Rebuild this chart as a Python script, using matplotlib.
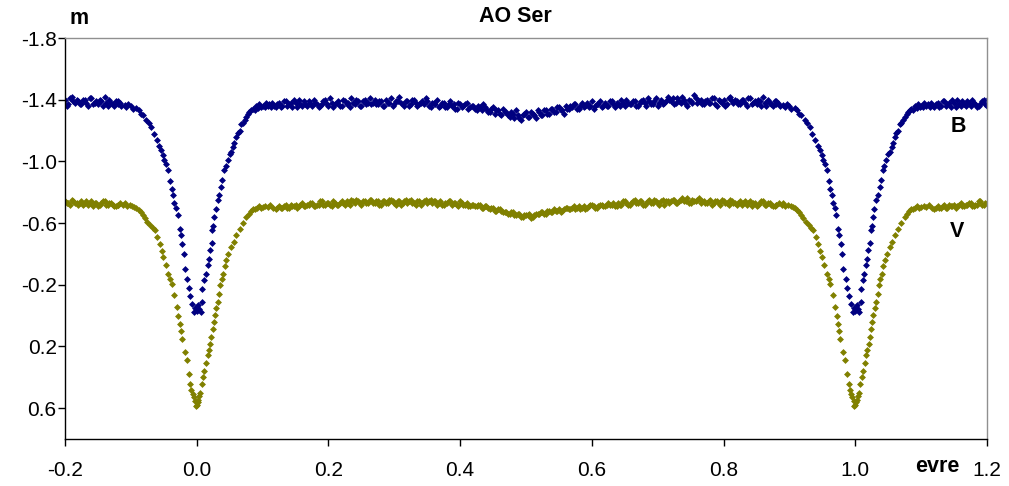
import numpy as np
import matplotlib
matplotlib.use("Agg")
import matplotlib.pyplot as plt

plt.rcParams['font.family'] = ['Liberation Sans', 'DejaVu Sans']

# phase and magnitude (one cycle, 0..1)
B_egress_phase = [0.000, 0.002, 0.004, 0.006, 0.0085, 0.0085, 0.011, 0.0135, 0.0165, 0.018,
                  0.020, 0.0225, 0.0235, 0.025, 0.027, 0.029, 0.032, 0.034, 0.037, 0.039,
                  0.042, 0.044, 0.047, 0.050, 0.052, 0.055, 0.057, 0.060, 0.0625, 0.065,
                  0.068, 0.070, 0.073, 0.075, 0.078, 0.080, 0.083, 0.085, 0.088, 0.090,
                  0.093, 0.095, 0.098, 0.100, 0.103, 0.105, 0.108, 0.110, 0.113, 0.115, 0.118]
B_egress_mag = [-0.03, -0.066, -0.04, -0.023, -0.088, -0.175, -0.23, -0.272, -0.326, -0.37,
                -0.424, -0.47, -0.553, -0.58, -0.64, -0.69, -0.748, -0.78, -0.835, -0.88,
                -0.943, -0.97, -1.008, -1.05, -1.06, -1.094, -1.12, -1.16, -1.181, -1.20,
                -1.24, -1.25, -1.268, -1.29, -1.31, -1.32, -1.332, -1.34, -1.33, -1.36,
                -1.345, -1.37, -1.35, -1.36, -1.354, -1.38, -1.36, -1.37, -1.35, -1.38, -1.36]

B_ingress_phase = [0.880, 0.883, 0.885, 0.8907, 0.893, 0.896, 0.900, 0.903, 0.9085, 0.912,
                   0.915, 0.918, 0.9237, 0.927, 0.931, 0.935, 0.939, 0.943, 0.9464, 0.949,
                   0.951, 0.954, 0.957, 0.960, 0.962, 0.964, 0.966, 0.969, 0.971, 0.974,
                   0.976, 0.978, 0.980, 0.982, 0.986, 0.988, 0.990, 0.993, 0.9966, 0.998]
B_ingress_mag = [-1.37, -1.38, -1.36, -1.365, -1.35, -1.37, -1.36, -1.34, -1.343, -1.33,
                 -1.31, -1.30, -1.268, -1.25, -1.224, -1.18, -1.138, -1.10, -1.073, -1.04,
                 -1.008, -0.98, -0.943, -0.87, -0.824, -0.78, -0.731, -0.70, -0.65, -0.564,
                 -0.52, -0.467, -0.40, -0.304, -0.24, -0.18, -0.13, -0.077, -0.023, -0.05]

# out of eclipse, sampled every 0.005 from 0.120 (set 1) and from 0.1225 (set 2)
B_flat1 = [-1.35, -1.38, -1.36, -1.39, -1.37, -1.35, -1.38, -1.40, -1.36, -1.37,
           -1.39, -1.36, -1.38, -1.35, -1.37, -1.40, -1.36, -1.38, -1.37, -1.39,
           -1.36, -1.39, -1.38, -1.41, -1.37, -1.39, -1.36, -1.40, -1.38, -1.37,
           -1.40, -1.37, -1.39, -1.36, -1.38, -1.41, -1.37, -1.39, -1.38, -1.36,
           -1.39, -1.37, -1.40, -1.36, -1.38, -1.37, -1.39, -1.35, -1.38, -1.40,
           -1.36, -1.38, -1.35, -1.39, -1.37, -1.34, -1.37, -1.36, -1.38, -1.35,
           -1.36, -1.33, -1.35, -1.37, -1.34, -1.32, -1.35, -1.33, -1.31, -1.34,
           -1.32, -1.29, -1.31, -1.33, -1.28, -1.30, -1.32, -1.29, -1.31, -1.28,
           -1.32, -1.30, -1.33, -1.31, -1.34, -1.32, -1.35, -1.33, -1.36, -1.34,
           -1.35, -1.37, -1.34, -1.38, -1.36, -1.35, -1.39, -1.36, -1.37, -1.35,
           -1.38, -1.36, -1.39, -1.35, -1.37, -1.40, -1.36, -1.38, -1.37, -1.39,
           -1.36, -1.39, -1.38, -1.41, -1.37, -1.39, -1.36, -1.40, -1.38, -1.42,
           -1.39, -1.37, -1.41, -1.38, -1.40, -1.36, -1.39, -1.43, -1.38, -1.40,
           -1.37, -1.40, -1.38, -1.41, -1.36, -1.39, -1.40, -1.37, -1.42, -1.38,
           -1.39, -1.37, -1.40, -1.36, -1.41, -1.38, -1.37, -1.39, -1.42, -1.36,
           -1.38, -1.36, -1.39]
B_flat2 = [-1.37, -1.35, -1.39, -1.36, -1.38, -1.40, -1.35, -1.37, -1.39, -1.36,
           -1.38, -1.40, -1.37, -1.36, -1.39, -1.37, -1.41, -1.35, -1.38, -1.36,
           -1.40, -1.37, -1.35, -1.38, -1.40, -1.36, -1.39, -1.37, -1.41, -1.38,
           -1.37, -1.39, -1.36, -1.40, -1.38, -1.36, -1.39, -1.42, -1.37, -1.39,
           -1.36, -1.40, -1.38, -1.37, -1.39, -1.41, -1.36, -1.38, -1.37, -1.35,
           -1.38, -1.35, -1.37, -1.36, -1.34, -1.38, -1.35, -1.37, -1.34, -1.36,
           -1.34, -1.36, -1.33, -1.35, -1.32, -1.34, -1.31, -1.33, -1.30, -1.32,
           -1.30, -1.32, -1.28, -1.30, -1.27, -1.31, -1.29, -1.32, -1.30, -1.33,
           -1.30, -1.33, -1.31, -1.34, -1.32, -1.35, -1.33, -1.31, -1.34, -1.36,
           -1.37, -1.34, -1.36, -1.35, -1.38, -1.36, -1.34, -1.37, -1.39, -1.36,
           -1.36, -1.39, -1.37, -1.38, -1.36, -1.38, -1.40, -1.37, -1.39, -1.36,
           -1.38, -1.40, -1.36, -1.39, -1.37, -1.41, -1.38, -1.37, -1.39, -1.40,
           -1.41, -1.38, -1.39, -1.42, -1.37, -1.40, -1.38, -1.41, -1.39, -1.37,
           -1.39, -1.38, -1.41, -1.37, -1.40, -1.38, -1.36, -1.41, -1.39, -1.40,
           -1.37, -1.40, -1.38, -1.41, -1.37, -1.39, -1.40, -1.36, -1.38, -1.40,
           -1.37, -1.39]

V_egress_phase = [0.000, 0.0013, 0.0025, 0.0037, 0.005, 0.0077, 0.010, 0.0118, 0.014, 0.0168,
                  0.0185, 0.0204, 0.022, 0.024, 0.026, 0.0274, 0.030, 0.032, 0.034, 0.0356,
                  0.038, 0.040, 0.0425, 0.045, 0.048, 0.0527, 0.056, 0.060, 0.065, 0.070,
                  0.0755, 0.079, 0.082, 0.085, 0.088, 0.091, 0.094, 0.097, 0.100, 0.104,
                  0.108, 0.112, 0.116]
V_egress_mag = [0.58, 0.56, 0.55, 0.518, 0.50, 0.442, 0.40, 0.356, 0.31, 0.258,
                0.22, 0.182, 0.14, 0.085, 0.04, -0.001, -0.05, -0.088, -0.14, -0.196,
                -0.24, -0.272, -0.32, -0.36, -0.40, -0.445, -0.48, -0.52, -0.56, -0.60,
                -0.64, -0.66, -0.68, -0.69, -0.694, -0.70, -0.71, -0.70, -0.705, -0.71,
                -0.705, -0.715, -0.70]

V_ingress_phase = [0.880, 0.884, 0.888, 0.8907, 0.894, 0.898, 0.902, 0.9055, 0.9085, 0.912,
                   0.915, 0.918, 0.921, 0.925, 0.929, 0.933, 0.936, 0.940, 0.944, 0.947,
                   0.949, 0.953, 0.957, 0.960, 0.962, 0.9655, 0.9697, 0.972, 0.974, 0.976,
                   0.9775, 0.9816, 0.985, 0.9877, 0.990, 0.992, 0.9937, 0.9955, 0.9977, 0.9987]
V_ingress_mag = [-0.72, -0.73, -0.72, -0.727, -0.71, -0.72, -0.71, -0.705, -0.70, -0.685,
                 -0.67, -0.65, -0.63, -0.61, -0.59, -0.57, -0.553, -0.51, -0.467, -0.42,
                 -0.38, -0.33, -0.272, -0.24, -0.207, -0.131, -0.055, 0.00, 0.053, 0.10,
                 0.15, 0.237, 0.291, 0.377, 0.442, 0.48, 0.507, 0.53, 0.551, 0.583]

V_flat1 = [-0.69, -0.71, -0.70, -0.72, -0.70, -0.71, -0.72, -0.71, -0.73, -0.71,
           -0.72, -0.73, -0.71, -0.72, -0.74, -0.72, -0.73, -0.71, -0.73, -0.72,
           -0.74, -0.72, -0.73, -0.75, -0.73, -0.74, -0.72, -0.74, -0.73, -0.75,
           -0.73, -0.74, -0.72, -0.74, -0.73, -0.75, -0.73, -0.74, -0.72, -0.74,
           -0.73, -0.75, -0.73, -0.74, -0.72, -0.74, -0.73, -0.75, -0.74, -0.72,
           -0.74, -0.72, -0.73, -0.74, -0.73, -0.72, -0.74, -0.72, -0.73, -0.71,
           -0.72, -0.71, -0.72, -0.70, -0.71, -0.69, -0.70, -0.68, -0.69, -0.67,
           -0.67, -0.66, -0.67, -0.65, -0.66, -0.64, -0.65, -0.66, -0.64, -0.66,
           -0.66, -0.67, -0.66, -0.68, -0.67, -0.68, -0.69, -0.68, -0.70, -0.69,
           -0.70, -0.69, -0.71, -0.70, -0.69, -0.71, -0.72, -0.70, -0.71, -0.72,
           -0.71, -0.73, -0.72, -0.71, -0.73, -0.72, -0.74, -0.72, -0.73, -0.75,
           -0.73, -0.74, -0.72, -0.74, -0.73, -0.75, -0.73, -0.74, -0.72, -0.74,
           -0.74, -0.75, -0.73, -0.75, -0.74, -0.76, -0.73, -0.74, -0.75, -0.73,
           -0.74, -0.73, -0.75, -0.73, -0.74, -0.72, -0.74, -0.73, -0.75, -0.73,
           -0.72, -0.74, -0.73, -0.72, -0.74, -0.73, -0.71, -0.73, -0.74, -0.72,
           -0.73, -0.71, -0.72]
V_flat2 = [-0.70, -0.70, -0.71, -0.70, -0.72, -0.71, -0.70, -0.72, -0.71, -0.72,
           -0.73, -0.71, -0.72, -0.74, -0.72, -0.73, -0.72, -0.74, -0.72, -0.73,
           -0.73, -0.74, -0.72, -0.74, -0.75, -0.73, -0.74, -0.73, -0.75, -0.73,
           -0.74, -0.72, -0.74, -0.73, -0.75, -0.74, -0.72, -0.74, -0.73, -0.75,
           -0.74, -0.73, -0.72, -0.74, -0.73, -0.75, -0.74, -0.73, -0.74, -0.73,
           -0.72, -0.73, -0.74, -0.72, -0.73, -0.71, -0.73, -0.72, -0.71, -0.72,
           -0.71, -0.72, -0.70, -0.71, -0.70, -0.70, -0.68, -0.69, -0.68, -0.67,
           -0.66, -0.67, -0.65, -0.66, -0.64, -0.65, -0.65, -0.63, -0.65, -0.66,
           -0.67, -0.66, -0.68, -0.67, -0.69, -0.68, -0.67, -0.69, -0.70, -0.69,
           -0.71, -0.70, -0.69, -0.71, -0.70, -0.72, -0.71, -0.70, -0.72, -0.71,
           -0.72, -0.72, -0.73, -0.71, -0.72, -0.74, -0.73, -0.72, -0.74, -0.73,
           -0.74, -0.72, -0.73, -0.75, -0.73, -0.74, -0.72, -0.75, -0.74, -0.73,
           -0.75, -0.73, -0.74, -0.76, -0.74, -0.73, -0.75, -0.74, -0.76, -0.74,
           -0.73, -0.74, -0.72, -0.74, -0.73, -0.75, -0.73, -0.72, -0.74, -0.73,
           -0.73, -0.72, -0.74, -0.73, -0.71, -0.73, -0.72, -0.74, -0.72, -0.73,
           -0.72, -0.71]

flat_step = 0.005
flat1_start = 0.120
flat2_start = 0.1225

x_ticks = [-0.2, 0.0, 0.2, 0.4, 0.6, 0.8, 1.0, 1.2]
y_ticks = [-1.8, -1.4, -1.0, -0.6, -0.2, 0.2, 0.6]


def one_cycle(egress_ph, egress_m, flat1, flat2, ingress_ph, ingress_m):
    ph1 = flat1_start + flat_step*np.arange(len(flat1))
    ph2 = flat2_start + flat_step*np.arange(len(flat2))
    ph = np.concatenate([egress_ph, ph1, ph2, ingress_ph])
    m = np.concatenate([egress_m, flat1, flat2, ingress_m])
    return ph, m


fig = plt.figure(figsize=(10.09, 4.86), dpi=100)
ax = fig.add_axes([65/1009, 1-439/486, (987-65)/1009, (439-38)/486])

bands = [("B", "#000080", (B_egress_phase, B_egress_mag, B_flat1, B_flat2, B_ingress_phase, B_ingress_mag)),
         ("V", "#808000", (V_egress_phase, V_egress_mag, V_flat1, V_flat2, V_ingress_phase, V_ingress_mag))]
for name, col, data in bands:
    ph, m = one_cycle(*data)
    # repeat the folded cycle so both primary minima are shown
    for shift in (-1, 0, 1):
        ax.plot(ph+shift, m, "D", color=col, markersize=3.0, markeredgewidth=0.5, markeredgecolor=col)

ax.set_xlim(-0.2, 1.2)
ax.set_ylim(0.8, -1.8)
ax.set_xticks(x_ticks)
ax.set_yticks(y_ticks)
ax.set_xticklabels(["%0.1f" % t for t in x_ticks])
ax.set_yticklabels(["%0.1f" % t for t in y_ticks])
ax.tick_params(axis="both", direction="out", length=5, width=1, color="black", labelsize=15)
ax.tick_params(axis="y", pad=1)
ax.tick_params(axis="x", pad=11)
for s in ["left", "bottom"]:
    ax.spines[s].set_color("black")
    ax.spines[s].set_linewidth(1)
for s in ["top", "right"]:
    ax.spines[s].set_color("#909090")
    ax.spines[s].set_linewidth(1)

lbl = dict(ha="center", va="center", fontsize=15.5, fontweight="bold")
fig.text(515/1009, 1-16/486, "AO Ser", **lbl)
fig.text(79/1009, 1-18/486, "m", **lbl)
fig.text(937/1009, 1-466/486, "evre", **lbl)
fig.text(958/1009, 1-127/486, "B", **lbl)
fig.text(957/1009, 1-231/486, "V", **lbl)

fig.savefig("out.png", dpi=100)
